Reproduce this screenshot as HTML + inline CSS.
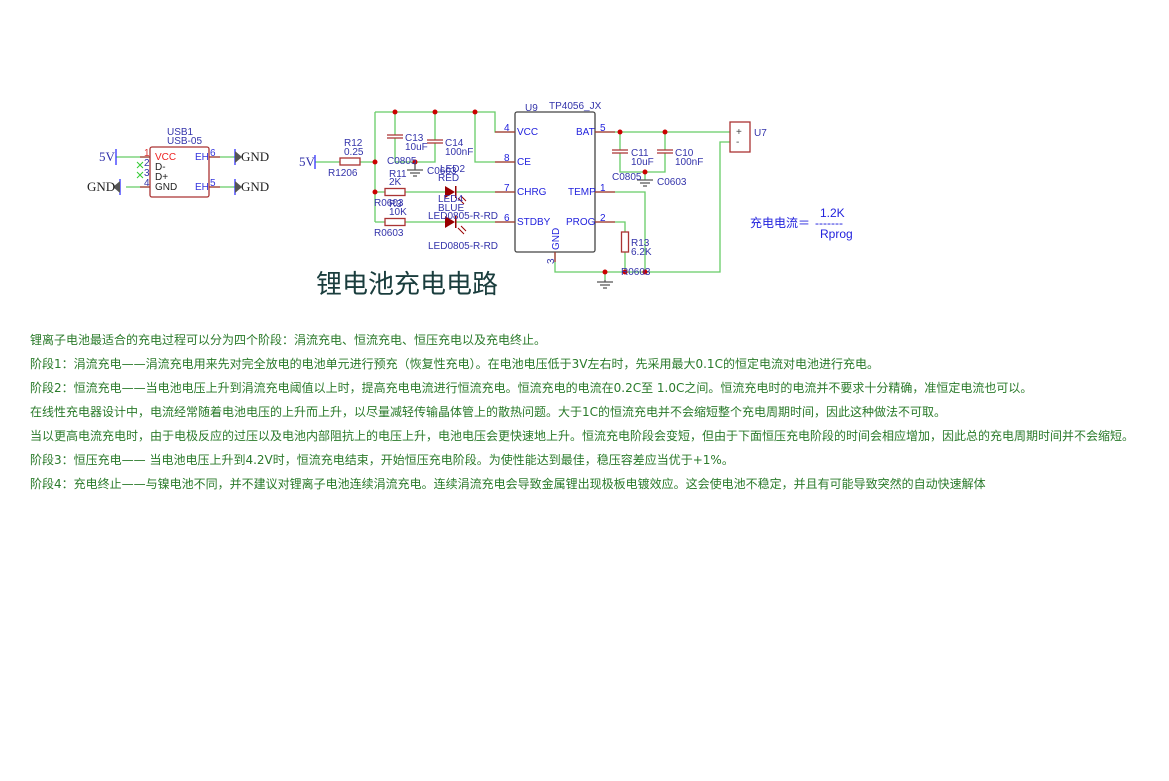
<!DOCTYPE html>
<html><head><meta charset="utf-8"><style>
body{margin:0;background:#fff;width:1169px;height:781px;overflow:hidden;position:relative}
svg{position:absolute;left:0;top:0}
.p{position:absolute;left:30px;font:12px "DejaVu Sans","Noto Sans CJK SC",sans-serif;color:#2a7a2a;white-space:nowrap}
</style></head><body>
<svg width="1169" height="781" font-family="Liberation Sans, sans-serif">
<g stroke="#6c6" stroke-width="1.3" fill="none">
<path d="M116 157H150M126 187H150M209 157H235M209 187H235"/>
<path d="M315 162H340M360 162H375M375 112V222M375 112H495V132H515M475 112V162H515M395 112V135M395 138V162H435V143M435 112V140"/>
<path d="M375 192H385M405 192H445M455 192H515M375 222H385M405 222H445M455 222H515"/>
<path d="M595 132H730M620 132V150M620 153V172H665V153M665 132V150M645 172V180"/>
<path d="M595 192H645V272M595 222H625V232M625 252V272M555 252V272H720V142H730M605 272V280"/>
</g>
<g stroke="#a33" stroke-width="1.3" fill="none">
<rect x="150" y="147" width="59" height="50" rx="2"/>
<rect x="340" y="158" width="20" height="7"/>
<rect x="385" y="188.5" width="20" height="7"/>
<rect x="385" y="218.5" width="20" height="7"/>
<rect x="621.5" y="232" width="7" height="20"/>
<path d="M387 135H403M387 138H403M427 140H443M427 143H443M612 150H628M612 153H628M657 150H673M657 153H673"/>
<rect x="730" y="122" width="20" height="30"/>
</g>
<rect x="515" y="112" width="80" height="140" rx="2" fill="none" stroke="#444" stroke-width="1.3"/>
<g stroke="#a33" stroke-width="1.3"><path d="M495 132H515M495 162H515M495 192H515M495 222H515M595 132H615M595 192H615M595 222H615M555 252V262M209 157H220M209 187H220M140 157H150M140 187H150"/></g>
<g fill="#900"><path d="M445 186L455 192L445 198Z"/><rect x="455" y="186" width="1.5" height="12"/><path d="M445 216L455 222L445 228Z"/><rect x="455" y="216" width="1.5" height="12"/></g>
<g stroke="#900" stroke-width="1"><path d="M458 198L464 204M461 196L466 201M458 228L464 234M461 226L466 231"/></g>
<g fill="#c00"><circle cx="375" cy="162" r="2.5"/><circle cx="375" cy="192" r="2.5"/><circle cx="395" cy="112" r="2.5"/><circle cx="435" cy="112" r="2.5"/><circle cx="475" cy="112" r="2.5"/><circle cx="415" cy="162" r="2.5"/><circle cx="620" cy="132" r="2.5"/><circle cx="665" cy="132" r="2.5"/><circle cx="645" cy="172" r="2.5"/><circle cx="605" cy="272" r="2.5"/><circle cx="625" cy="272" r="2.5"/><circle cx="645" cy="272" r="2.5"/></g>
<g stroke="#555" stroke-width="1.3"><path d="M415 162V170M407 170H423M410 173H420M413 176H417M645 180M637 180H653M640 183H650M643 186H647M605 280V282M597 282H613M600 285H610M603 288H607"/>
<path d="M235 149V165M235 179V195M120 179V195M116 149V165M315 155V169" stroke="#33f"/></g>
<g fill="#555"><path d="M235 151L242 157L235 163Z M235 181L242 187L235 193Z M120 181L113 187L120 193Z"/></g>
<path d="M137 162L143 168M143 162L137 168M137 172L143 178M143 172L137 178" stroke="#3c3" stroke-width="1"/>
<g font-size="10" fill="#33a">
<text x="167" y="135">USB1</text><text x="167" y="144">USB-05</text>
<text x="195" y="160" fill="#33d">EH</text><text x="195" y="190" fill="#33d">EH</text>
<text x="210" y="156" fill="#33d">6</text><text x="210" y="186" fill="#33d">5</text>
<text x="144" y="156" fill="#d33">1</text><text x="144" y="166">2</text><text x="144" y="176">3</text><text x="144" y="186">4</text>
<text x="344" y="146">R12</text><text x="344" y="155">0.25</text><text x="328" y="176">R1206</text>
<text x="405" y="141">C13</text><text x="405" y="150">10uF</text><text x="445" y="146">C14</text><text x="445" y="155">100nF</text>
<text x="387" y="164">C0805</text><text x="427" y="174">C0603</text><text x="440" y="172">LED2</text><text x="438" y="181">RED</text>
<text x="389" y="177">R11</text><text x="389" y="185">2K</text><text x="374" y="206">R0603</text><text x="389" y="207">R3</text><text x="389" y="215">10K</text>
<text x="438" y="202">LED4</text><text x="438" y="211">BLUE</text><text x="428" y="219">LED0805-R-RD</text><text x="374" y="236">R0603</text><text x="428" y="249">LED0805-R-RD</text>
<text x="525" y="111">U9</text><text x="549" y="109">TP4056_JX</text>
<text x="631" y="156">C11</text><text x="631" y="165">10uF</text><text x="675" y="156">C10</text><text x="675" y="165">100nF</text>
<text x="612" y="180">C0805</text><text x="657" y="185">C0603</text>
<text x="631" y="246">R13</text><text x="631" y="255">6.2K</text><text x="621" y="275">R0603</text><text x="754" y="136">U7</text>
</g>
<g font-size="10" fill="#22d">
<text x="517" y="135">VCC</text><text x="517" y="165">CE</text><text x="517" y="195">CHRG</text><text x="517" y="225">STDBY</text>
<text x="576" y="135">BAT</text><text x="568" y="195">TEMP</text><text x="566" y="225">PROG</text>
<text x="504" y="131">4</text><text x="504" y="161">8</text><text x="504" y="191">7</text><text x="504" y="221">6</text>
<text x="600" y="131">5</text><text x="600" y="191">1</text><text x="600" y="221">2</text>
<text transform="translate(559 250) rotate(-90)">GND</text><text transform="translate(554 264) rotate(-90)" fill="#33a">3</text>
<text x="736" y="135" fill="#444">+</text><text x="736" y="145" fill="#444">-</text>
<text x="155" y="160" fill="#e22">VCC</text><text x="155" y="170" fill="#222">D-</text><text x="155" y="180" fill="#222">D+</text><text x="155" y="190" fill="#222">GND</text>
</g>
<g font-family="Liberation Serif, serif" font-size="13" fill="#222">
<text x="99" y="161" fill="#33a">5V</text><text x="299" y="166" fill="#33a">5V</text>
<text x="87" y="191">GND</text><text x="241" y="161">GND</text><text x="241" y="191">GND</text>
</g>
<text x="316" y="293" font-size="26" fill="#1a3d3d" font-family="Noto Sans CJK SC, sans-serif">锂电池充电电路</text>
<g fill="#22d" font-size="12" font-family="Liberation Sans, Noto Sans CJK SC, sans-serif">
<text x="750" y="227">充电电流＝</text><text x="820" y="217">1.2K</text><text x="815" y="227">-------</text><text x="820" y="238">Rprog</text>
</g>
</svg>
<div class="p" style="top:331px">锂离子电池最适合的充电过程可以分为四个阶段：涓流充电、恒流充电、恒压充电以及充电终止。</div>
<div class="p" style="top:355px">阶段1：涓流充电——涓流充电用来先对完全放电的电池单元进行预充（恢复性充电）。在电池电压低于3V左右时，先采用最大0.1C的恒定电流对电池进行充电。</div>
<div class="p" style="top:379px">阶段2：恒流充电——当电池电压上升到涓流充电阈值以上时，提高充电电流进行恒流充电。恒流充电的电流在0.2C至 1.0C之间。恒流充电时的电流并不要求十分精确，准恒定电流也可以。</div>
<div class="p" style="top:403px">在线性充电器设计中，电流经常随着电池电压的上升而上升，以尽量减轻传输晶体管上的散热问题。大于1C的恒流充电并不会缩短整个充电周期时间，因此这种做法不可取。</div>
<div class="p" style="top:427px">当以更高电流充电时，由于电极反应的过压以及电池内部阻抗上的电压上升，电池电压会更快速地上升。恒流充电阶段会变短，但由于下面恒压充电阶段的时间会相应增加，因此总的充电周期时间并不会缩短。</div>
<div class="p" style="top:451px">阶段3：恒压充电—— 当电池电压上升到4.2V时，恒流充电结束，开始恒压充电阶段。为使性能达到最佳，稳压容差应当优于+1%。</div>
<div class="p" style="top:475px">阶段4：充电终止——与镍电池不同，并不建议对锂离子电池连续涓流充电。连续涓流充电会导致金属锂出现极板电镀效应。这会使电池不稳定，并且有可能导致突然的自动快速解体</div>
</body></html>
